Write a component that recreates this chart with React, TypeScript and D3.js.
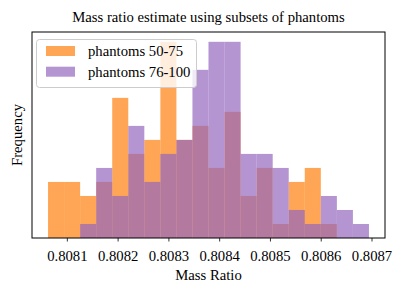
import * as d3 from 'd3';

// histogram bin edges (shared grid) and counts per bin
const binEdges = [
    0.808062, 0.8080936, 0.8081252, 0.8081568, 0.8081884, 0.80822, 0.8082516,
    0.8082832, 0.8083148, 0.8083464, 0.808378, 0.8084096, 0.8084412, 0.8084728,
    0.8085044, 0.808536, 0.8085676, 0.8085992, 0.8086308, 0.8086624, 0.808694,
];
const counts5075 = [4, 4, 3, 4, 10, 6, 7, 14, 7, 8, 5, 9, 3, 5, 1, 4, 5, 1, 0, 0];
const counts76100 = [0, 0, 1, 5, 3, 8, 4, 6, 7, 12, 14, 14, 6, 6, 5, 2, 1, 3, 2, 1];
const xTicks = [0.8081, 0.8082, 0.8083, 0.8084, 0.8085, 0.8086, 0.8087];
const seriesNames = ['phantoms 50-75', 'phantoms 76-100'];
const colors = ['#ff7f0e', '#9467bd'];

const W = 405, H = 296;
const m = { left: 32, right: 385, top: 32, bottom: 238 };
const font = '"Liberation Serif", "DejaVu Serif", serif';
const fs = 14.7;

const App = () => {
    const lo = binEdges[0], hi = binEdges[binEdges.length - 1];
    const pad = (hi - lo) * 0.05;
    const x = d3.scaleLinear().domain([lo - pad, hi + pad]).range([m.left, m.right]);
    const ymax = d3.max([...counts5075, ...counts76100]) * 1.05;
    const y = d3.scaleLinear().domain([0, ymax]).range([m.bottom, m.top]);

    const bars = (counts, color, key) =>
        counts.map((c, i) => c > 0 && (
            <rect key={key + i}
                x={x(binEdges[i])}
                y={y(c)}
                width={x(binEdges[i + 1]) - x(binEdges[i])}
                height={y(0) - y(c)}
                fill={color}
                fillOpacity={0.7} />
        ));

    const txt = { fontFamily: font, fontSize: fs };

    return (
        <svg width={W} height={H} style={{ position: 'fixed', left: 0, top: 0, background: '#fff' }}>
            <text x={(m.left + m.right) / 2} y={22} textAnchor="middle" style={txt}>
                Mass ratio estimate using subsets of phantoms
            </text>
            {bars(counts5075, colors[0], 'a')}
            {bars(counts76100, colors[1], 'b')}
            <rect x={m.left} y={m.top} width={m.right - m.left} height={m.bottom - m.top}
                fill="none" stroke="#000" strokeWidth={1} />
            {xTicks.map(t => (
                <g key={t} transform={`translate(${x(t)},${m.bottom})`}>
                    <line y2={3.5} stroke="#000" strokeWidth={0.8} />
                    <text y={23} textAnchor="middle" style={txt}>{d3.format('.4f')(t)}</text>
                </g>
            ))}
            <text x={(m.left + m.right) / 2} y={279.5} textAnchor="middle" style={txt}>Mass Ratio</text>
            <text transform={`translate(22,${(m.top + m.bottom) / 2}) rotate(-90)`} textAnchor="middle"
                style={txt}>Frequency</text>
            <g>
                <rect x={36.5} y={39.5} width={160} height={48} rx={3}
                    fill="#fff" fillOpacity={0.8} stroke="#ccc" strokeWidth={1} />
                {seriesNames.map((s, i) => (
                    <g key={s} transform={`translate(0,${i * 20.7})`}>
                        <rect x={46} y={46} width={29} height={10} fill={colors[i]} fillOpacity={0.7} />
                        <text x={88} y={56} style={txt}>{s}</text>
                    </g>
                ))}
            </g>
        </svg>
    );
};

export default App;
